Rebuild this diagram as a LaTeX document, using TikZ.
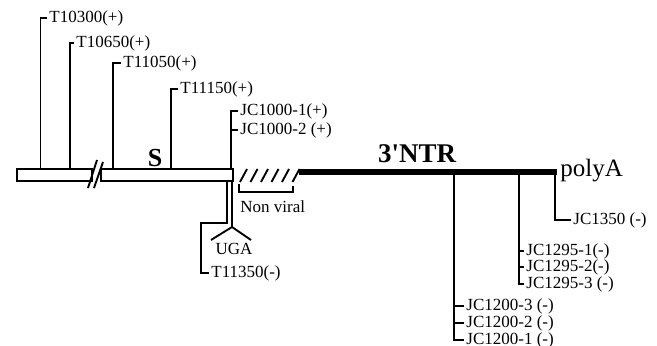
\documentclass[tikz,border=0pt]{standalone}
\usepackage{fontspec}
\setmainfont{Liberation Serif}[Ligatures=TeXOff]
\begin{document}
\begin{tikzpicture}[x=0.5pt,y=-0.5pt,
  lbl/.style={font=\fontsize{8.5}{10}\selectfont,anchor=west,inner sep=1pt},
  tick/.style={line width=0.95pt},
  rna/.style={draw,line width=0.95pt}]
\useasboundingbox (0,0) rectangle (657,346);
\draw[rna] (17,169) rectangle (92,181);
\draw[rna] (101,169) rectangle (233,181);
\draw[tick] (88,188) -- (97,160);
\draw[tick] (94,188) -- (103,162);
\node[font=\bfseries\fontsize{13}{15}\selectfont,anchor=base,inner sep=0pt] (s) at (155,167) {S};
\coordinate (p10300) at (40.5,169);
\coordinate (p10650) at (70,169);
\coordinate (p11050) at (113,169);
\coordinate (p11150) at (171,169);
\coordinate (p1000) at (231,169);
\node[lbl] (t10300) at (47,18) {T10300(+)};
\node[lbl] (t10650) at (74,43) {T10650(+)};
\node[lbl] (t11050) at (121,63) {T11050(+)};
\node[lbl] (t11150) at (178,89) {T11150(+)};
\node[lbl] (j1000a) at (238,111) {JC1000-1(+)};
\node[lbl] (j1000b) at (238,130) {JC1000-2 (+)};
\draw[tick] (p10300) |- (t10300.west);
\draw[tick] (p10650) |- (t10650.west);
\draw[tick] (p11050) |- (t11050.west);
\draw[tick] (p11150) |- (t11150.west);
\draw[tick] (p1000) |- (j1000a.west);
\draw[tick] (j1000b.west -| p1000) -- (j1000b.west);
\coordinate (uga0) at (232,181);
\coordinate (ugaA) at (232,227);
\coordinate (ugaL) at (211,240);
\coordinate (ugaR) at (251,240);
\draw[tick] (uga0) -- (ugaA);
\draw[tick] (ugaL) -- (ugaA) -- (ugaR);
\node[lbl,anchor=center] (uga) at (234,249) {UGA};
\coordinate (p11350) at (227,181);
\coordinate (k11350) at (201,223);
\node[lbl] (t11350) at (209,273) {T11350(-)};
\draw[tick] (p11350) |- (k11350) |- (t11350.west);
\foreach \i in {0,...,5}
  \draw[tick] ({240+10.5*\i},182) -- ({247+10.5*\i},169);
\draw[tick] (239,184) -- (239,192) -- (293,192) -- (293,186);
\node[lbl] (nonviral) at (238,207) {Non viral};
\coordinate (ntrA) at (299,172);
\coordinate (ntrB) at (557,172);
\draw[line width=2.6pt] (ntrA) -- (ntrB);
\node[font=\bfseries\fontsize{13.5}{15}\selectfont,anchor=base,inner sep=0pt] (ntr) at (417,163) {3'NTR};
\node[font=\fontsize{12.5}{15}\selectfont,anchor=base west,inner sep=1pt] (polya) at (558,177) {polyA};
\coordinate (p1200) at (454,172);
\coordinate (p1295) at (519,172);
\coordinate (p1350) at (555,172);
\node[lbl] (j1350) at (571,220) {JC1350 (-)};
\draw[tick] (p1350) |- (j1350.west);
\node[lbl] (j1295a) at (524,251) {JC1295-1(-)};
\node[lbl] (j1295b) at (524,267) {JC1295-2(-)};
\node[lbl] (j1295c) at (524,284) {JC1295-3 (-)};
\draw[tick] (p1295) |- (j1295c.west);
\draw[tick] (j1295a.west -| p1295) -- (j1295a.west);
\draw[tick] (j1295b.west -| p1295) -- (j1295b.west);
\node[lbl] (j1200c) at (464,306) {JC1200-3 (-)};
\node[lbl] (j1200b) at (464,323) {JC1200-2 (-)};
\node[lbl] (j1200a) at (464,340) {JC1200-1 (-)};
\draw[tick] (p1200) |- (j1200a.west);
\draw[tick] (j1200c.west -| p1200) -- (j1200c.west);
\draw[tick] (j1200b.west -| p1200) -- (j1200b.west);
\end{tikzpicture}
\end{document}
